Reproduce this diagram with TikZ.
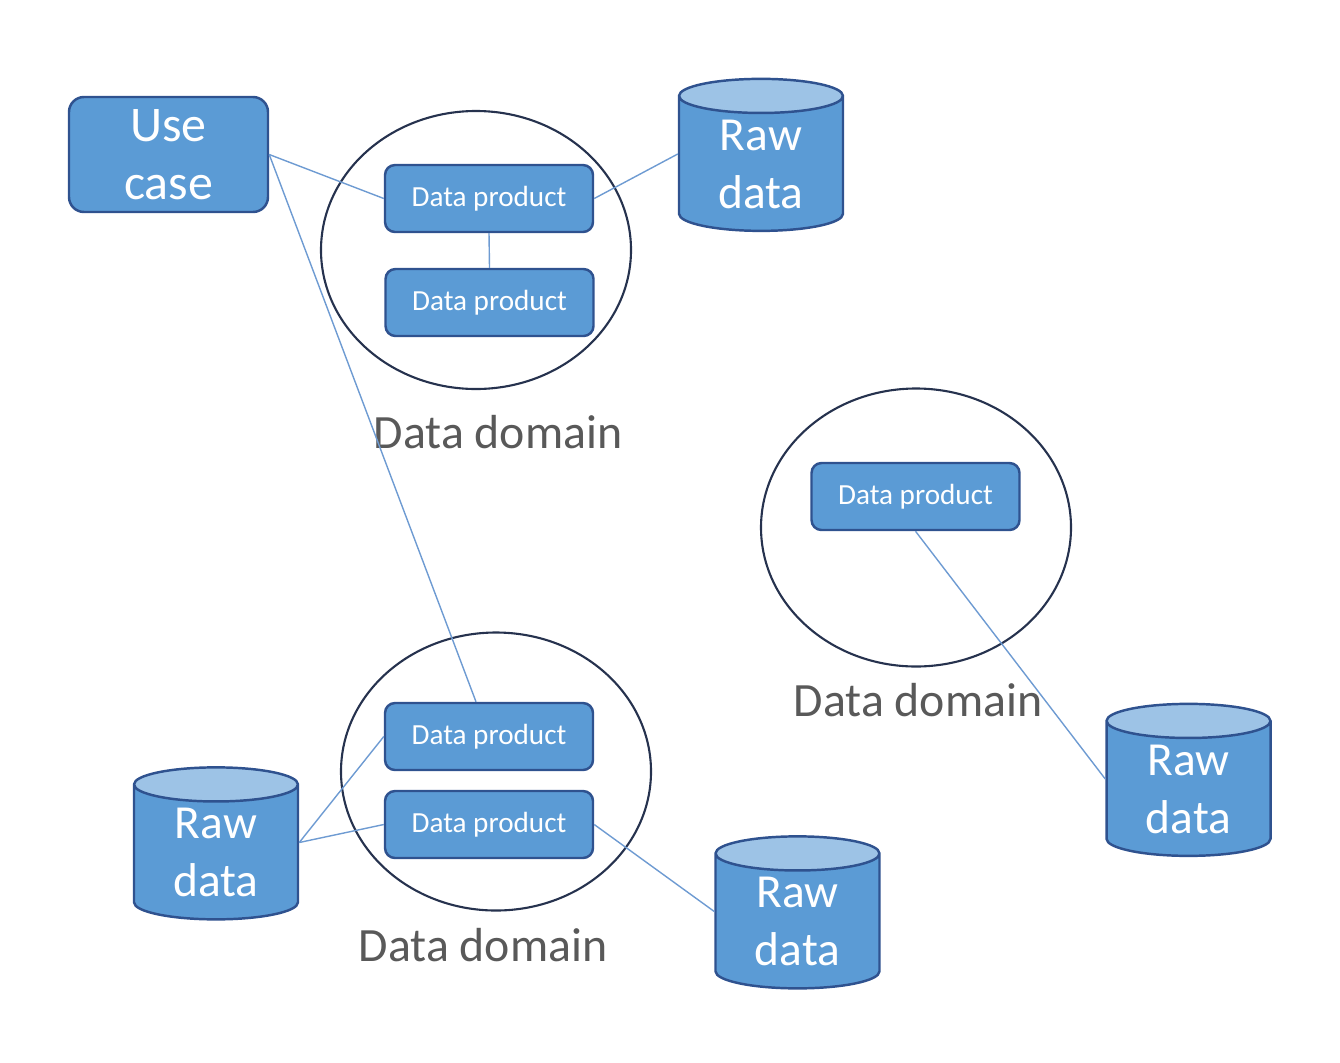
\documentclass[tikz,border=0pt]{standalone}
\usepackage{fontspec}
\setmainfont{Carlito}
\definecolor{dmblue}{RGB}{91,155,213}
\definecolor{dmtop}{RGB}{157,195,230}
\definecolor{dmedge}{RGB}{47,82,143}
\definecolor{dmring}{RGB}{38,50,78}
\definecolor{dmline}{RGB}{110,155,210}
\definecolor{dmgray}{RGB}{89,89,89}
\usetikzlibrary{shapes.geometric}

\begin{document}
\begin{tikzpicture}[
  usecase/.style={draw=dmedge, line width=0.7pt, fill=dmblue, rounded corners=0.15cm,
    minimum width=1.99cm, minimum height=1.15cm, inner sep=0pt, text=white,
    align=center, font=\fontsize{14.2}{16.5}\selectfont},
  product/.style={draw=dmedge, line width=0.7pt, fill=dmblue, rounded corners=0.1cm,
    minimum width=2.08cm, minimum height=0.67cm, inner sep=0pt, text=white,
    font=\fontsize{8.3}{10}\selectfont},
  dataring/.style={draw=dmring, line width=0.6pt, ellipse,
    minimum width=3.1cm, minimum height=2.78cm, inner sep=0pt},
  domlabel/.style={text=dmgray, font=\fontsize{13.6}{16}\selectfont},
  rawdata/.style={draw=dmedge, line width=0.7pt, cylinder, shape border rotate=90,
    aspect=0.4, cylinder uses custom fill, cylinder body fill=dmblue,
    cylinder end fill=dmtop, minimum width=1.64cm, minimum height=1.52cm,
    inner sep=0pt, text=white, align=center, font=\fontsize{13.5}{16.5}\selectfont},
  link/.style={draw=dmline, line width=0.4pt}
]
\useasboundingbox (0,0) rectangle (13.4,-10.62);

% Use case
\node[usecase] (uc) at (1.685,-1.545) {Use\\case};

% Top domain
\node[dataring] (dom1) at (4.76,-2.5) {};
\node[product] (dp1) at (4.89,-1.985) {Data product};
\node[product] (dp2) at (4.895,-3.025) {Data product};
\node[domlabel] (lab1) at (4.98,-4.32) {Data domain};
\node[rawdata] (raw1) at (7.61,-1.64) {Raw\\data};

% Right domain
\node[dataring] (dom2) at (9.16,-5.275) {};
\node[product] (dp3) at (9.155,-4.965) {Data product};
\node[domlabel] (lab2) at (9.18,-7.0) {Data domain};
\node[rawdata] (raw2) at (11.885,-7.89) {Raw\\data};

% Bottom domain
\node[dataring] (dom3) at (4.96,-7.715) {};
\node[product] (dp4) at (4.89,-7.365) {Data product};
\node[product] (dp5) at (4.89,-8.245) {Data product};
\node[domlabel] (lab3) at (4.83,-9.45) {Data domain};
\node[rawdata] (raw3) at (2.16,-8.525) {Raw\\data};
\node[rawdata] (raw4) at (7.975,-9.215) {Raw\\data};

% Links
\draw[link] (uc.east) -- (dp1.west);
\draw[link] (uc.east) -- ([xshift=-0.13cm]dp4.north);
\draw[link] (dp1.south) -- (dp2.north);
\draw[link] (dp1.east) -- ([yshift=0.1cm]raw1.west);
\draw[link] (dp3.south) -- ([yshift=0.1cm]raw2.west);
\draw[link] ([yshift=0.1cm]raw3.east) -- (dp4.west);
\draw[link] ([yshift=0.1cm]raw3.east) -- (dp5.west);
\draw[link] (dp5.east) -- ([yshift=0.1cm]raw4.west);
\end{tikzpicture}
\end{document}
